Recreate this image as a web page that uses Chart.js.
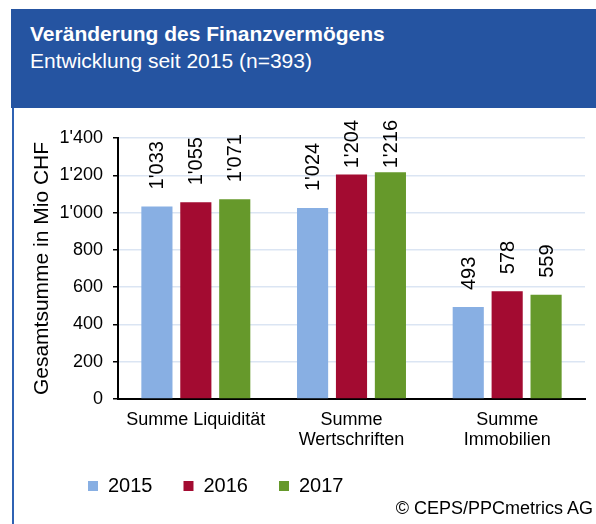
<!DOCTYPE html>
<html>
<head>
<meta charset="utf-8">
<script src="https://cdn.jsdelivr.net/npm/chart.js@4/dist/chart.umd.min.js"></script>
<style>
  body { margin: 0; background: #fff; font-family: "Liberation Sans", Arial, sans-serif; }
  #page { position: relative; width: 596px; height: 524px; overflow: hidden; }
  #header { position: absolute; left: 11px; top: 9px; width: 585px; height: 99px; background: #2554a1; }
  #frameLeft { position: absolute; left: 12px; top: 108px; width: 2px; height: 416px; background: #2f62b3; }
  .htext { position: absolute; left: 30px; color: #fff; font-size: 21px; line-height: 24px; white-space: nowrap; }
  #title { top: 22px; font-weight: bold; }
  #subtitle { top: 49px; }
  #chart { position: absolute; left: 15px; top: 108px; }
  #copy { position: absolute; right: 3px; top: 498px; font-size: 18px; line-height: 21px; color: #000; }
</style>
</head>
<body>
<div id="page">
  <div id="header"></div>
  <div id="title" class="htext">Veränderung des Finanzvermögens</div>
  <div id="subtitle" class="htext">Entwicklung seit 2015 (n=393)</div>
  <div id="frameLeft"></div>
  <canvas id="chart" width="581" height="416"></canvas>
  <div id="copy">© CEPS/PPCmetrics AG</div>
</div>
<script>
  // Daten aus der Grafik
  const categories = ["Summe Liquidität", ["Summe", "Wertschriften"], ["Summe", "Immobilien"]];
  const years = ["2015", "2016", "2017"];
  const values2015 = [1033, 1024, 493];
  const values2016 = [1055, 1204, 578];
  const values2017 = [1071, 1216, 559];
  const colors = ["#88afe3", "#a30b31", "#66992b"];

  // 1'033 Format
  function formatCHF(v) {
    if (v >= 1000) {
      return Math.floor(v / 1000) + "'" + String(v % 1000).padStart(3, "0");
    }
    return String(v);
  }

  Chart.defaults.font.family = "'Liberation Sans', Arial, sans-serif";
  Chart.defaults.color = "#000";

  // Werte senkrecht über den Balken
  const barLabels = {
    id: "barLabels",
    afterDatasetsDraw(chart) {
      const ctx = chart.ctx;
      ctx.save();
      ctx.font = "20px 'Liberation Sans', Arial, sans-serif";
      ctx.fillStyle = "#000";
      ctx.textAlign = "left";
      ctx.textBaseline = "middle";
      chart.data.datasets.forEach((ds, i) => {
        chart.getDatasetMeta(i).data.forEach((bar, j) => {
          const text = formatCHF(ds.data[j]);
          const w = ctx.measureText(text).width;
          const y = Math.max(bar.y - 17, 12 + w);
          ctx.save();
          ctx.translate(bar.x, y);
          ctx.rotate(-Math.PI / 2);
          ctx.fillText(text, 0, 1);
          ctx.restore();
        });
      });
      ctx.restore();
    }
  };

  // Legende an die Position wie im Original schieben
  const legendPos = {
    id: "legendPos",
    afterLayout(chart) {
      const lg = chart.legend;
      const w = lg.right - lg.left;
      lg.left = 42;
      lg.right = 42 + w;
      lg.top = 337;
    }
  };

  const ctx = document.getElementById("chart").getContext("2d");
  const myChart = new Chart(ctx, {
    type: "bar",
    data: {
      labels: categories,
      datasets: [
        { label: years[0], data: values2015, backgroundColor: colors[0], borderWidth: 0 },
        { label: years[1], data: values2016, backgroundColor: colors[1], borderWidth: 0 },
        { label: years[2], data: values2017, backgroundColor: colors[2], borderWidth: 0 },
      ],
    },
    options: {
      responsive: false,
      animation: false,
      devicePixelRatio: 1,
      categoryPercentage: 0.75,
      barPercentage: 0.8,
      layout: { padding: { left: 0, right: 11, top: 30, bottom: 4 } },
      plugins: {
        legend: {
          position: "bottom",
          align: "start",
          labels: {
            boxWidth: 10,
            boxHeight: 10,
            padding: 31,
            font: { size: 20 },
            color: "#000",
          },
        },
        tooltip: { enabled: false },
      },
      scales: {
        x: {
          grid: { display: false, drawTicks: false },
          border: { display: true, color: "#000", width: 2 },
          ticks: { font: { size: 18, lineHeight: 1.111 }, padding: 11, maxRotation: 0, autoSkip: false },
          afterFit(scale) { scale.height = 60; },
        },
        y: {
          min: 0,
          max: 1400,
          ticks: {
            stepSize: 200,
            font: { size: 18 },
            padding: 10,
            callback: (v) => formatCHF(v),
          },
          grid: { color: "#dbe5f3", lineWidth: 1.5, tickColor: "#000", tickLength: 5, tickWidth: 1.5 },
          border: { display: true, color: "#000", width: 2 },
          title: {
            display: true,
            text: "Gesamtsumme in Mio CHF",
            font: { size: 21 },
            color: "#000",
            padding: { top: 15, bottom: 0 },
          },
          afterFit(scale) { scale.width = 103; },
        },
      },
    },
    plugins: [barLabels, legendPos],
  });
</script>
</body>
</html>
